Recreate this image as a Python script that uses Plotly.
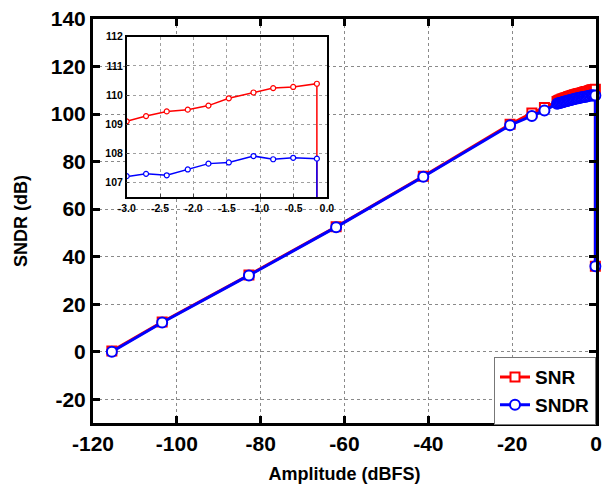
import plotly.graph_objects as go

amplitude = [-115.5, -103.5, -82.8, -62.0, -41.2, -20.5, -15.3, -12.3, -9.3,
             -9.0, -8.7, -8.4, -8.1, -7.8, -7.5, -7.2, -6.9, -6.6, -6.3,
             -6.0, -5.7, -5.4, -5.1, -4.8, -4.5, -4.2, -3.9, -3.6, -3.3,
             -3.0, -2.71, -2.4, -2.085, -1.775, -1.47, -1.1, -0.805, -0.505, -0.15,
             -0.15]
snr = [0.3, 12.5, 32.3, 52.6, 73.8, 95.7, 100.4, 102.8, 105.3,
       105.6, 105.8, 106.0, 106.3, 106.4, 106.7, 106.9, 107.0, 107.3, 107.4,
       107.6, 107.8, 107.9, 108.1, 108.2, 108.4, 108.5, 108.7, 108.8, 108.95,
       109.1, 109.28, 109.44, 109.5, 109.64, 109.89, 110.09, 110.24, 110.28, 110.39,
       36.0]
sndr = [0.0, 12.3, 32.1, 52.4, 73.6, 95.3, 99.2, 101.5, 104.3,
        104.5, 104.7, 104.8, 105.0, 105.1, 105.3, 105.4, 105.5, 105.7, 105.8,
        105.9, 106.1, 106.2, 106.3, 106.5, 106.6, 106.7, 106.9, 107.0, 107.1,
        107.22, 107.30, 107.25, 107.45, 107.65, 107.69, 107.91, 107.80, 107.85, 107.82,
        36.0]

main_xticks = [-120, -100, -80, -60, -40, -20, 0]
main_yticks = [-20, 0, 20, 40, 60, 80, 100, 120, 140]
inset_xticks = [-3.0, -2.5, -2.0, -1.5, -1.0, -0.5, 0.0]
inset_yticks = [107, 108, 109, 110, 111, 112]

RED = "#ff0000"
BLUE = "#0000ff"
FONT = "Liberation Sans"

fig = go.Figure()

fig.add_trace(go.Scatter(
    x=amplitude, y=snr, name="<b>SNR</b>", mode="lines+markers",
    line=dict(color=RED, width=3),
    marker=dict(symbol="square", size=9, color="white", line=dict(color=RED, width=2)),
    xaxis="x", yaxis="y", cliponaxis=False))
fig.add_trace(go.Scatter(
    x=amplitude, y=sndr, name="<b>SNDR</b>", mode="lines+markers",
    line=dict(color=BLUE, width=3),
    marker=dict(symbol="circle", size=10, color="white", line=dict(color=BLUE, width=2)),
    xaxis="x", yaxis="y", cliponaxis=False))

# inset
fig.add_trace(go.Scatter(
    x=amplitude, y=snr, mode="lines+markers", showlegend=False,
    line=dict(color=RED, width=1.5),
    marker=dict(symbol="circle", size=5, color="white", line=dict(color=RED, width=1.2)),
    xaxis="x2", yaxis="y2"))
fig.add_trace(go.Scatter(
    x=amplitude, y=sndr, mode="lines+markers", showlegend=False,
    line=dict(color=BLUE, width=1.5),
    marker=dict(symbol="circle", size=5, color="white", line=dict(color=BLUE, width=1.2)),
    xaxis="x2", yaxis="y2"))

grid = dict(showgrid=True, gridcolor="#8a8a8a", gridwidth=1, griddash="dot")

fig.update_layout(
    width=602, height=490,
    margin=dict(l=93, r=6, t=19, b=67, autoexpand=False),
    paper_bgcolor="white", plot_bgcolor="white",
    font=dict(family=FONT, color="black"),
    xaxis=dict(range=[-120, 0], tickvals=main_xticks, automargin=False,
               ticktext=[f"<b>{v}</b>" for v in main_xticks],
               tickfont=dict(size=21, family=FONT), ticks="inside", ticklen=7,
               tickwidth=3, tickcolor="black", showline=True, linecolor="black",
               linewidth=3, mirror="ticks", zeroline=False,
               title=dict(text="<b>Amplitude (dBFS)</b>", font=dict(size=18), standoff=14),
               **grid),
    yaxis=dict(range=[-30, 140], tickvals=main_yticks, automargin=False,
               ticktext=[f"<b>{v}</b>" for v in main_yticks],
               tickfont=dict(size=21, family=FONT), ticks="inside", ticklen=7,
               tickwidth=3, tickcolor="black", showline=True, linecolor="black",
               linewidth=3, mirror="ticks", zeroline=False,
               title=dict(text="<b>SNDR (dB)</b>", font=dict(size=18), standoff=19),
               **grid),
    xaxis2=dict(domain=[0.067, 0.465], anchor="y2", range=[-3.0, 0.0],
                tickvals=inset_xticks, automargin=False,
                ticktext=[f"<b>{v:.1f}</b>" for v in inset_xticks],
                tickfont=dict(size=10.5, family=FONT), ticks="inside", ticklen=3,
                showline=True, linecolor="black", linewidth=1.5, mirror=True,
                zeroline=False, gridcolor="#a0a0a0", griddash="dot", showgrid=True),
    yaxis2=dict(domain=[0.559, 0.956], anchor="x2", range=[106.5, 112],
                tickvals=inset_yticks, automargin=False,
                ticktext=[f"<b>{v}</b>" for v in inset_yticks],
                tickfont=dict(size=10.5, family=FONT), ticks="inside", ticklen=3,
                showline=True, linecolor="black", linewidth=1.5, mirror=True,
                zeroline=False, gridcolor="#a0a0a0", griddash="dot", showgrid=True),
    legend=dict(x=1.0, y=0.163, xanchor="right", yanchor="top",
                bgcolor="white", bordercolor="#777777", borderwidth=1,
                font=dict(size=19, family=FONT), tracegroupgap=0,
                itemwidth=30),
)

fig.write_html("out.html", config={"displayModeBar": False},
               post_script="document.body.style.margin='0';document.body.style.overflow='hidden';")
